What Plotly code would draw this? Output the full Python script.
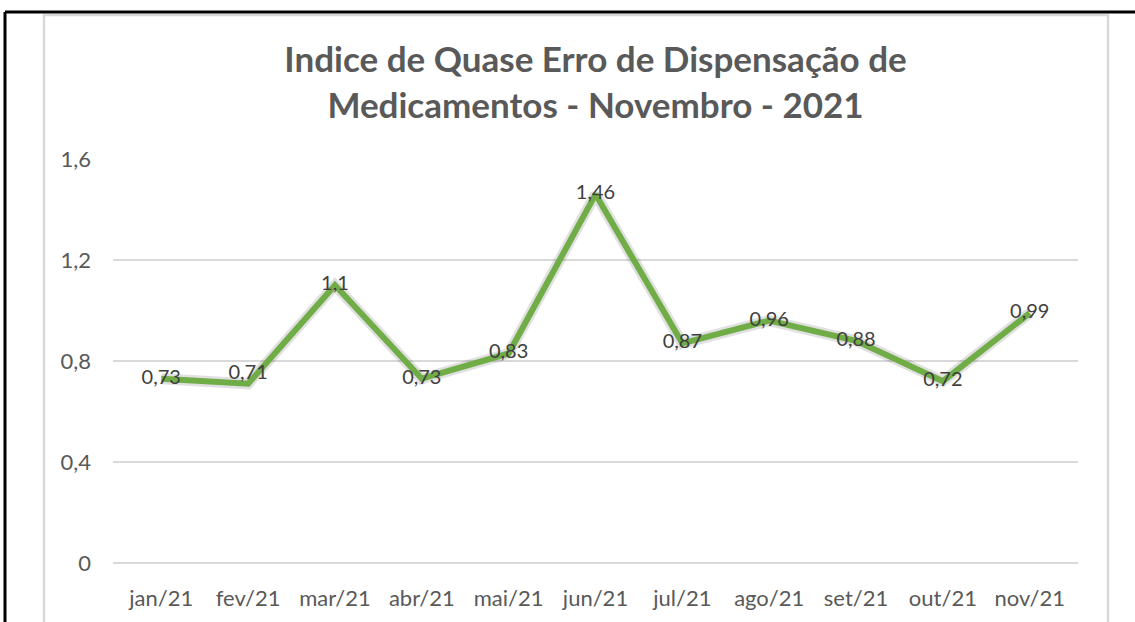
import plotly.graph_objects as go

months = ["jan/21", "fev/21", "mar/21", "abr/21", "mai/21", "jun/21",
          "jul/21", "ago/21", "set/21", "out/21", "nov/21"]
values = [0.73, 0.71, 1.1, 0.73, 0.83, 1.46, 0.87, 0.96, 0.88, 0.72, 0.99]
label_pos = ["middle center", "top center", "middle center", "middle center",
             "middle center", "middle center", "middle center", "middle center",
             "middle center", "middle center", "middle center"]
y_ticks = [0, 0.4, 0.8, 1.2, 1.6]
y_tick_text = ["0", "0,4", "0,8", "1,2", "1,6"]
title_text = "Indice de Quase Erro de Dispensação de<br>Medicamentos - Novembro - 2021"

W, H = 1135, 622
L, R, T, B = 113, 57, 159, 59
pw, ph = W - L - R, H - T - B

def px(x):
    return (x - L) / pw

def py(y):
    return (H - B - y) / ph

FONT = "Lato, 'Open Sans', sans-serif"
fig = go.Figure()
# soft shadow
fig.add_trace(go.Scatter(x=months, y=values, mode="lines",
                         line=dict(color="rgba(0,0,0,0.12)", width=11),
                         hoverinfo="skip", showlegend=False))
fig.add_trace(go.Scatter(x=months, y=values, mode="lines+text",
                         line=dict(color="#70AD47", width=6),
                         text=[f"{v:g}".replace(".", ",") for v in values],
                         textposition=label_pos,
                         textfont=dict(family=FONT, size=20, color="#404040"),
                         showlegend=False))

shapes = [
    dict(type="rect", xref="paper", yref="paper", x0=px(44), x1=px(1108),
         y0=py(640), y1=py(15), line=dict(color="#D9D9D9", width=2.5),
         fillcolor="rgba(0,0,0,0)", layer="below"),
    dict(type="line", xref="paper", yref="paper", x0=px(5), x1=px(5),
         y0=py(640), y1=py(12), line=dict(color="black", width=3)),
    dict(type="line", xref="paper", yref="paper", x0=px(5), x1=px(1140),
         y0=py(12), y1=py(12), line=dict(color="black", width=3)),
]

fig.update_layout(
    width=W, height=H,
    margin=dict(l=L, r=R, t=T, b=B),
    paper_bgcolor="white", plot_bgcolor="white",
    title=dict(text=title_text, x=0.5, xref="paper", xanchor="center",
               y=1 - 72 / H, yanchor="middle",
               font=dict(family=FONT, size=35, color="#595959", weight="bold")),
    shapes=shapes,
    xaxis=dict(showgrid=False, showline=False, zeroline=False, ticks="",
               tickfont=dict(family=FONT, size=22, color="#595959"),
               ticklabelstandoff=20),
    yaxis=dict(range=[0, 1.6], tickvals=y_ticks, ticktext=y_tick_text,
               showgrid=True, gridcolor="#D9D9D9", gridwidth=1.5,
               zeroline=True, zerolinecolor="#D9D9D9", zerolinewidth=1.5,
               showline=False, ticks="",
               tickfont=dict(family=FONT, size=22, color="#595959"),
               ticklabelstandoff=21),
)

fig.write_html("out.html", config={"displayModeBar": False},
               post_script="document.body.style.margin='0';document.body.style.overflow='hidden';")
